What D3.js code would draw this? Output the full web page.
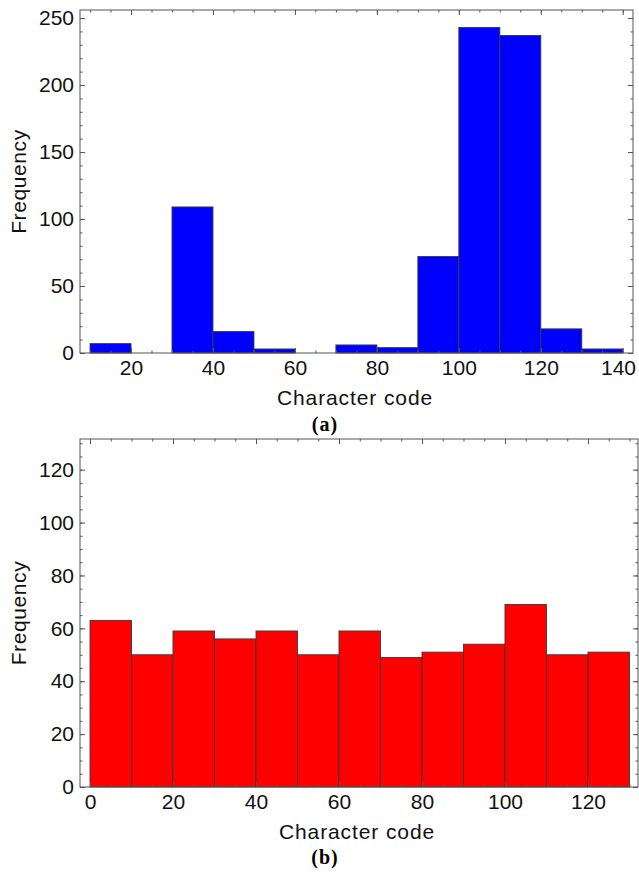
<!DOCTYPE html>
<html lang="en">
<head>
    <meta charset="UTF-8">
    <title>Character code histograms</title>
    <script src="https://d3js.org/d3.v7.min.js"></script>
    <style>
        body { margin: 0; background: #fff; }
        .tick text { font-family: "Liberation Sans", Arial, sans-serif; font-size: 21px; fill: #111; }
        .tick line { stroke: #555; }
    </style>
</head>
<body>
    <svg id="hists"></svg>
    <script>
        // (a) original text: bins of width 10 starting at binStartA
        var binStartA = [10, 20, 30, 40, 50, 60, 70, 80, 90, 100, 110, 120, 130];
        var countsA   = [7, 0, 109, 16, 3, 0, 6, 4, 72, 243, 237, 18, 3];
        var xTicksA   = [20, 40, 60, 80, 100, 120, 140];
        var yTicksA   = [0, 50, 100, 150, 200, 250];

        // (b) encrypted text
        var binStartB = [0, 10, 20, 30, 40, 50, 60, 70, 80, 90, 100, 110, 120];
        var countsB   = [63, 50, 59, 56, 59, 50, 59, 49, 51, 54, 69, 50, 51];
        var xTicksB   = [0, 20, 40, 60, 80, 100, 120];
        var yTicksB   = [0, 20, 40, 60, 80, 100, 120];

        var binWidth = 10;

        var svg = d3.select("#hists")
                    .attr("width", 639)
                    .attr("height", 875);

        function drawHist(cfg) {
            var data = cfg.starts.map(function(s, i) { return { x0: s, x1: s + binWidth, n: cfg.counts[i] }; })
                                 .filter(function(d) { return d.n > 0; });

            var x = d3.scaleLinear().domain(cfg.xDomain).range([cfg.left, cfg.right]);
            var y = d3.scaleLinear().domain(cfg.yDomain).range([cfg.bottom, cfg.top]);

            var g = svg.append("g");

            g.selectAll("rect.bar")
             .data(data)
             .enter().append("rect")
             .attr("class", "bar")
             .attr("x", function(d) { return x(d.x0); })
             .attr("y", function(d) { return y(d.n); })
             .attr("width", function(d) { return x(d.x1) - x(d.x0); })
             .attr("height", function(d) { return y(0) - y(d.n); })
             .attr("fill", cfg.color)
             .attr("stroke", "#3a3a3a")
             .attr("stroke-width", 0.9);

            // frame
            g.append("rect")
             .attr("x", cfg.left)
             .attr("y", cfg.top)
             .attr("width", cfg.right - cfg.left)
             .attr("height", cfg.bottom - cfg.top)
             .attr("fill", "none")
             .attr("stroke", "#555")
             .attr("stroke-width", 1);

            function noDomain(sel) { sel.select(".domain").remove(); }

            // bottom + left labelled ticks, pointing inward
            var xAxis = g.append("g")
             .attr("transform", "translate(0," + cfg.bottom + ")")
             .call(d3.axisBottom(x).tickValues(cfg.xTicks).tickSize(-5).tickPadding(7).tickFormat(d3.format("d")))
             .call(noDomain);
            // keep the rightmost label inside the page
            xAxis.selectAll(".tick text")
                 .attr("dx", function(d) { return x(d) + 20 > 639 ? -(x(d) + 20 - 638) : 0; });
            g.append("g")
             .attr("transform", "translate(0," + cfg.bottom + ")")
             .call(d3.axisBottom(x).tickValues(cfg.xMinor).tickSize(-2.5).tickFormat(""))
             .call(noDomain);

            g.append("g")
             .attr("transform", "translate(" + cfg.left + ",0)")
             .call(d3.axisLeft(y).tickValues(cfg.yTicks).tickSize(-5).tickPadding(6).tickFormat(d3.format("d")))
             .call(noDomain);
            g.append("g")
             .attr("transform", "translate(" + cfg.left + ",0)")
             .call(d3.axisLeft(y).tickValues(cfg.yMinor).tickSize(-2.5).tickFormat(""))
             .call(noDomain);

            // top + right ticks without labels
            g.append("g")
             .attr("transform", "translate(0," + cfg.top + ")")
             .call(d3.axisTop(x).tickValues(cfg.xTicks).tickSize(-5).tickFormat(""))
             .call(noDomain);
            g.append("g")
             .attr("transform", "translate(0," + cfg.top + ")")
             .call(d3.axisTop(x).tickValues(cfg.xMinor).tickSize(-2.5).tickFormat(""))
             .call(noDomain);
            g.append("g")
             .attr("transform", "translate(" + cfg.right + ",0)")
             .call(d3.axisRight(y).tickValues(cfg.yTicks).tickSize(-5).tickFormat(""))
             .call(noDomain);
            g.append("g")
             .attr("transform", "translate(" + cfg.right + ",0)")
             .call(d3.axisRight(y).tickValues(cfg.yMinor).tickSize(-2.5).tickFormat(""))
             .call(noDomain);

            g.append("text")
             .attr("x", cfg.xLabelX)
             .attr("y", cfg.bottom + 52)
             .attr("text-anchor", "middle")
             .attr("font-family", "Liberation Sans, Arial, sans-serif")
             .attr("font-size", "21px")
             .attr("letter-spacing", "0.9px")
             .attr("fill", "#111")
             .text("Character code");

            g.append("text")
             .attr("transform", "translate(26," + ((cfg.top + cfg.bottom) / 2) + ") rotate(-90)")
             .attr("text-anchor", "middle")
             .attr("font-family", "Liberation Sans, Arial, sans-serif")
             .attr("font-size", "21px")
             .attr("letter-spacing", "0.6px")
             .attr("fill", "#111")
             .text("Frequency");

            g.append("text")
             .attr("x", 325)
             .attr("y", cfg.captionY)
             .attr("text-anchor", "middle")
             .attr("font-family", "Liberation Serif, Times New Roman, serif")
             .attr("font-weight", "bold")
             .attr("font-size", "20px")
             .attr("letter-spacing", "1px")
             .attr("fill", "#000")
             .text(cfg.caption);
        }

        drawHist({
            starts: binStartA, counts: countsA, color: "#0000ff",
            xDomain: [7.55, 142.5], yDomain: [0, 256],
            left: 80, right: 633, top: 10, bottom: 353,
            xTicks: xTicksA, xMinor: d3.range(10, 141, 5),
            yTicks: yTicksA, yMinor: d3.range(0, 256, 10),
            xLabelX: 355, captionY: 431, caption: "(a)"
        });

        drawHist({
            starts: binStartB, counts: countsB, color: "#ff0000",
            xDomain: [-2.41, 132.05], yDomain: [0, 131.6],
            left: 80, right: 638, top: 439, bottom: 787,
            xTicks: xTicksB, xMinor: d3.range(0, 131, 5),
            yTicks: yTicksB, yMinor: d3.range(0, 131, 5),
            xLabelX: 357, captionY: 864, caption: "(b)"
        });
    </script>
</body>
</html>
